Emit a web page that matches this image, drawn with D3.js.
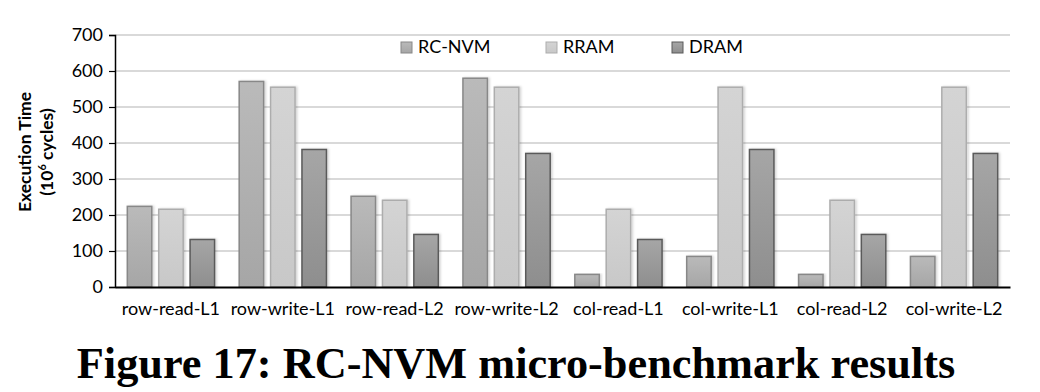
<!DOCTYPE html>
<html>
<head>
<meta charset="utf-8">
<script src="https://cdn.jsdelivr.net/npm/d3@7"></script>
<style>
  body { margin: 0; background: #fff; }
  svg { display: block; }
  text { font-family: Lato, "Open Sans", sans-serif; fill: #000; }
  text.caption { font-family: "Liberation Serif", "Times New Roman", serif; }
</style>
</head>
<body>
<svg id="chart" width="1040" height="392"></svg>
<script>
const categories = ["row-read-L1", "row-write-L1", "row-read-L2", "row-write-L2",
  "col-read-L1", "col-write-L1", "col-read-L2", "col-write-L2"];
const seriesNames = ["RC-NVM", "RRAM", "DRAM"];
const rcnvm = [224, 571, 252, 580, 35, 85, 35, 85];
const rram = [216, 555, 241, 555, 216, 555, 241, 555];
const dram = [132, 382, 146, 371, 132, 382, 146, 371];
const yTicks = [0, 100, 200, 300, 400, 500, 600, 700];

const series = [rcnvm, rram, dram];
// fill gradient top/bottom and stroke per series
const looks = [
  { top: "#bababa", bot: "#a6a6a6", stroke: "#888" },
  { top: "#d4d4d4", bot: "#c8c8c8", stroke: "#adadad" },
  { top: "#a6a6a6", bot: "#8e8e8e", stroke: "#5a5a5a" }
];

const margin = { top: 35, right: 30, bottom: 105, left: 115 };
const width = 1040, height = 392;
const svg = d3.select("#chart");

const x = d3.scaleBand().domain(categories)
  .range([margin.left, width - margin.right]).paddingInner(0.22).paddingOuter(0.11);
const xs = d3.scaleBand().domain(seriesNames).range([0, x.bandwidth()]).paddingInner(0.22);
const y = d3.scaleLinear().domain([0, 700]).range([height - margin.bottom, margin.top]);

const defs = svg.append("defs");
looks.forEach((l, i) => {
  const g = defs.append("linearGradient").attr("id", "grad" + i)
    .attr("x1", 0).attr("y1", 0).attr("x2", 0).attr("y2", 1);
  g.append("stop").attr("offset", "0%").attr("stop-color", l.top);
  g.append("stop").attr("offset", "100%").attr("stop-color", l.bot);
});
const f = defs.append("filter").attr("id", "shadow")
  .attr("x", "-20%").attr("y", "-5%").attr("width", "150%").attr("height", "115%");
f.append("feDropShadow").attr("dx", 1.5).attr("dy", 0).attr("stdDeviation", 1.2)
  .attr("flood-color", "#000").attr("flood-opacity", 0.18);

// gridlines
svg.append("g")
  .selectAll("line").data(yTicks.slice(1)).join("line")
  .attr("x1", margin.left).attr("x2", width - margin.right)
  .attr("y1", d => y(d)).attr("y2", d => y(d))
  .attr("stroke", "#d9d9d9").attr("stroke-width", 2);

// bars
const groups = svg.append("g").selectAll("g").data(categories).join("g")
  .attr("transform", d => `translate(${x(d)},0)`);
groups.selectAll("rect")
  .data((c, ci) => seriesNames.map((s, si) => ({ s, si, v: series[si][ci] })))
  .join("rect")
  .attr("x", d => xs(d.s))
  .attr("width", xs.bandwidth())
  .attr("y", d => y(d.v))
  .attr("height", d => y(0) - y(d.v))
  .attr("fill", d => `url(#grad${d.si})`)
  .attr("stroke", d => looks[d.si].stroke)
  .attr("stroke-width", 1.5)
  .attr("filter", "url(#shadow)");

// y axis
const yAxis = svg.append("g")
  .attr("transform", `translate(${margin.left},0)`)
  .call(d3.axisLeft(y).tickValues(yTicks).tickSize(6).tickPadding(6));
yAxis.select(".domain").attr("stroke", "#000").attr("stroke-width", 1.5);
yAxis.selectAll(".tick line").attr("stroke", "#000").attr("stroke-width", 1.2);
yAxis.selectAll(".tick text").attr("font-size", 18);

// x axis
const xAxis = svg.append("g")
  .attr("transform", `translate(0,${y(0)})`)
  .call(d3.axisBottom(x).tickSize(0).tickPadding(15));
xAxis.select(".domain").attr("stroke", "#000").attr("stroke-width", 2);
xAxis.selectAll(".tick text").attr("font-size", 18);

// y label
const yl = svg.append("text")
  .attr("transform", "translate(31,152) rotate(-90)")
  .attr("text-anchor", "middle").attr("font-weight", "bold").attr("font-size", 17.5);
yl.append("tspan").attr("x", 0).attr("dy", 0).text("Execution Time");
const l2 = yl.append("tspan").attr("x", 0).attr("dy", 22).text("(10");
l2.append("tspan").attr("font-size", 11).attr("dy", -7).text("6");
l2.append("tspan").attr("dy", 7).text(" cycles)");

// legend
const legendX = [401, 546, 672];
const lg = svg.append("g").selectAll("g").data(seriesNames).join("g")
  .attr("transform", (d, i) => `translate(${legendX[i]},42)`);
lg.append("rect").attr("width", 11).attr("height", 11)
  .attr("fill", (d, i) => `url(#grad${i})`)
  .attr("stroke", (d, i) => looks[i].stroke).attr("stroke-width", 1);
lg.append("text").attr("x", 17).attr("y", 11).attr("font-size", 18).text(d => d);

// caption
svg.append("text").attr("class", "caption")
  .attr("x", 516).attr("y", 378)
  .attr("text-anchor", "middle")
  .attr("font-weight", "bold").attr("font-size", 44.3)
  .text("Figure 17: RC-NVM micro-benchmark results");
</script>
</body>
</html>
